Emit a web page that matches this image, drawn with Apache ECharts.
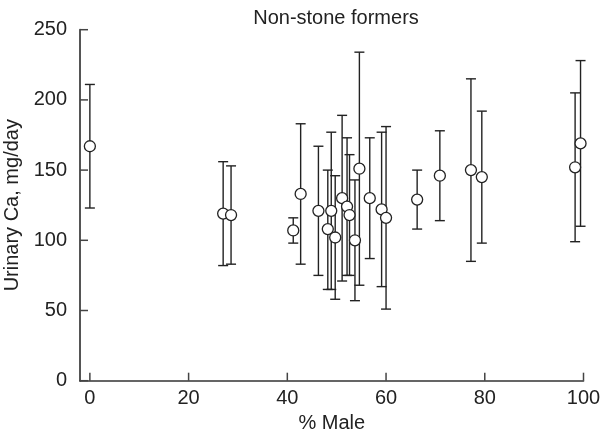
<!DOCTYPE html>
<html>
<head>
<meta charset="utf-8">
<script src="https://cdn.jsdelivr.net/npm/echarts@6/dist/echarts.min.js"></script>
<style>
  html, body { margin: 0; padding: 0; background: #fff; }
  #chart { width: 600px; height: 436px; }
</style>
</head>
<body>
<div id="chart"></div>
<script>
// % male in each study group
var malePct = [0, 27.0, 28.6, 41.2, 42.7, 46.3, 48.2, 48.9, 49.7, 51.1, 52.1, 52.6, 53.7, 54.6, 56.7, 59.1, 60.0, 66.3, 70.9, 77.2, 79.4, 98.3, 99.4];
// mean urinary Ca and bar ends
var meanCa  = [167, 119, 118, 107, 133, 121, 108, 121, 102, 130, 124, 118, 100, 151, 130, 122, 116, 129, 146, 150, 145, 152, 169];
var upperCa = [211, 156, 153, 116, 183, 167, 150, 177, 146, 189, 173, 161, 143, 234, 173, 177, 181, 150, 178, 215, 192, 205, 228];
var lowerCa = [123, 82, 83, 98, 83, 75, 65, 65, 58, 71, 75, 75, 57, 68, 87, 67, 51, 108, 114, 85, 98, 99, 110];
var xTicks = [0, 20, 40, 60, 80, 100];
var yTicks = [0, 50, 100, 150, 200, 250];
var xMin = -2, xMax = 100, yMin = 0, yMax = 250;

var points = [], bars = [], tickMarks = [];
for (var i = 0; i < malePct.length; i++) {
    points.push([malePct[i], meanCa[i]]);
    bars.push([malePct[i], lowerCa[i], upperCa[i]]);
}
// inward ticks: [x, y, direction] (0 = on x axis, 1 = on y axis)
xTicks.forEach(function (v) { tickMarks.push([v, yMin, 0]); });
yTicks.forEach(function (v) { tickMarks.push([xMin, v, 1]); });

var txt = '#222';
var font = 'Liberation Sans, Arial, sans-serif';

var myChart = echarts.init(document.getElementById('chart'));
var option = {
    animation: false,
    title: {
        text: 'Non-stone formers',
        left: 331,
        top: 3,
        textAlign: 'center',
        textStyle: { fontSize: 20, fontWeight: 'normal', color: txt, fontFamily: font }
    },
    grid: { left: 80, right: 16.5, top: 29.7, bottom: 55.3, outerBoundsMode: 'none', containLabel: false },
    xAxis: {
        type: 'value',
        min: xMin,
        max: xMax,
        name: '% Male',
        nameLocation: 'middle',
        nameGap: 29,
        nameTextStyle: { fontSize: 20, color: txt, fontFamily: font },
        splitLine: { show: false },
        axisLine: { show: true, onZero: false, lineStyle: { color: '#333', width: 1.6 } },
        axisTick: { show: false },
        axisLabel: { customValues: xTicks, margin: 8, fontSize: 20, color: txt, fontFamily: font }
    },
    yAxis: {
        type: 'value',
        min: yMin,
        max: yMax,
        interval: 50,
        name: 'Urinary Ca, mg/day',
        nameLocation: 'middle',
        nameGap: 58,
        nameTextStyle: { fontSize: 20, color: txt, fontFamily: font },
        splitLine: { show: false },
        axisLine: { show: true, onZero: false, lineStyle: { color: '#555', width: 2 } },
        axisTick: { show: false },
        axisLabel: { margin: 13, fontSize: 20, color: txt, fontFamily: font }
    },
    series: [
        {
            type: 'custom',
            data: tickMarks,
            z: 1,
            silent: true,
            renderItem: function (params, api) {
                var p = api.coord([api.value(0), api.value(1)]);
                var len = 8;
                var onY = api.value(2) === 1;
                return {
                    type: 'line',
                    shape: onY
                        ? { x1: p[0], y1: p[1], x2: p[0] + len, y2: p[1] }
                        : { x1: p[0], y1: p[1], x2: p[0], y2: p[1] - len },
                    style: { stroke: '#444', lineWidth: 1.5 }
                };
            }
        },
        {
            type: 'custom',
            data: bars,
            z: 2,
            renderItem: function (params, api) {
                var x = api.value(0);
                var lo = api.coord([x, api.value(1)]);
                var hi = api.coord([x, api.value(2)]);
                var w = 5;
                var st = { stroke: '#222', lineWidth: 1.4 };
                return {
                    type: 'group',
                    children: [
                        { type: 'line', shape: { x1: lo[0], y1: lo[1], x2: hi[0], y2: hi[1] }, style: st },
                        { type: 'line', shape: { x1: hi[0] - w, y1: hi[1], x2: hi[0] + w, y2: hi[1] }, style: st },
                        { type: 'line', shape: { x1: lo[0] - w, y1: lo[1], x2: lo[0] + w, y2: lo[1] }, style: st }
                    ]
                };
            }
        },
        {
            type: 'scatter',
            data: points,
            z: 3,
            symbol: 'circle',
            symbolSize: 11,
            itemStyle: { color: '#fff', borderColor: '#222', borderWidth: 1.3, opacity: 1 }
        }
    ]
};
myChart.setOption(option);
</script>
</body>
</html>
